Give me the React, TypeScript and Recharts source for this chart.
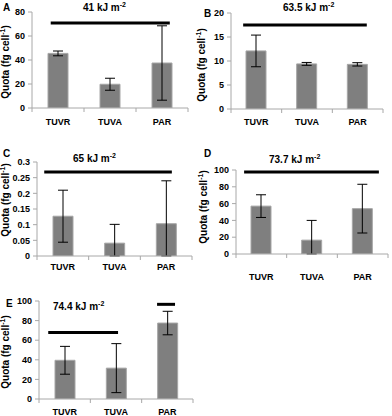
import { BarChart, Bar, XAxis, YAxis, ErrorBar, ReferenceLine } from 'recharts';

const categories = ['TUVR', 'TUVA', 'PAR'];

// Quota (fg cell-1) and error per treatment
const quotaA = [45.5, 19.8, 37.5];
const errA = [2, 5, 31];
const quotaB = [12.1, 9.4, 9.3];
const errB = [3.3, 0.3, 0.35];
const quotaC = [0.127, 0.041, 0.103];
const errC = [0.083, 0.06, 0.137];
const quotaD = [57, 16.5, 54];
const errD = [13.5, 23.5, 29];
const quotaE = [39.5, 31.5, 77.5];
const errE = [14.2, 25, 12];

const ticksA = [0, 20, 40, 60, 80];
const ticksB = [0, 5, 10, 15, 20];
const ticksC = [0, 0.05, 0.1, 0.15, 0.2, 0.25, 0.3];
const ticksD = [0, 20, 40, 60, 80, 100];
const ticksE = [0, 20, 40, 60, 80, 100];

// significance bars (x in category index units)
const sigA = [{ from: -0.14, to: 2.15, y: 70.8 }];
const sigB = [{ from: -0.26, to: 2.18, y: 17.5 }];
const sigC = [{ from: -0.36, to: 2.11, y: 0.268 }];
const sigD = [{ from: -0.34, to: 2.32, y: 97.5 }];
const sigE = [
  { from: -0.32, to: 1.04, y: 67.8 },
  { from: 1.8, to: 2.15, y: 96.6 },
];

const axisGrey = '#a8a8a8';
const xTicks = [-0.5, 0, 0.5, 1, 1.5, 2, 2.5];

function buildRows(values: number[], errs: number[]) {
  return values.map((v, i) => ({
    x: i,
    name: categories[i],
    value: v,
    // error below zero is cut off at the axis
    err: [Math.min(errs[i], v), errs[i]],
  }));
}

function CatTick({ x, y, payload, offset }: any) {
  const v = payload.value;
  if (Number.isInteger(v)) {
    return (
      <text x={x} y={y + offset} textAnchor="middle" fontSize={9} fontWeight="bold" fill="#000">
        {categories[v]}
      </text>
    );
  }
  return <line x1={x} y1={y} x2={x} y2={y + 4} stroke={axisGrey} />;
}

interface PanelProps {
  values: number[];
  errs: number[];
  yTicks: number[];
  sig: { from: number; to: number; y: number }[];
  left: number;
  top: number;
  height: number;
  yWidth: number;
  margin: { top: number; right: number; bottom: number; left: number };
  labelOffset: number;
}

function Panel({ values, errs, yTicks, sig, left, top, height, yWidth, margin, labelOffset }: PanelProps) {
  const data = buildRows(values, errs);
  return (
    <div style={{ position: 'absolute', left, top }}>
      <BarChart width={196} height={height} data={data} margin={margin}>
        <XAxis
          dataKey="x"
          type="number"
          domain={[-0.5, 2.5]}
          ticks={xTicks}
          interval={0}
          allowDataOverflow
          height={15}
          stroke={axisGrey}
          tickLine={false}
          tickSize={0}
          tickMargin={0}
          tick={(p: any) => <CatTick {...p} offset={labelOffset} />}
        />
        <YAxis
          width={yWidth}
          domain={[0, yTicks[yTicks.length - 1]]}
          ticks={yTicks}
          interval={0}
          allowDataOverflow
          stroke={axisGrey}
          tickSize={4}
          tickMargin={3}
          tick={{ fontSize: 9, fontWeight: 'bold', fill: '#000' }}
        />
        <Bar dataKey="value" barSize={20} fill="#7f7f7f" stroke="#a6a6a6" strokeWidth={1} isAnimationActive={false}>
          <ErrorBar dataKey="err" width={5} stroke="#000" strokeWidth={1} isAnimationActive={false} />
        </Bar>
        {sig.map((s, i) => (
          <ReferenceLine
            key={i}
            segment={[
              { x: s.from, y: s.y },
              { x: s.to, y: s.y },
            ]}
            stroke="#000"
            strokeWidth={3}
            ifOverflow="visible"
          />
        ))}
      </BarChart>
    </div>
  );
}

function Title({ x, y, text }: { x: number; y: number; text: string }) {
  return (
    <text x={x} y={y} fontSize={10} fontWeight="bold" fill="#000">
      {text} m
      <tspan dy={-4} fontSize={7}>-2</tspan>
    </text>
  );
}

function YLabel({ x, y }: { x: number; y: number }) {
  return (
    <text
      x={x}
      y={y}
      transform={`rotate(-90 ${x} ${y})`}
      textAnchor="middle"
      fontSize={10}
      fontWeight="bold"
      fill="#000"
    >
      Quota (fg cell
      <tspan dy={-4} fontSize={7}>-1</tspan>
      <tspan dy={4}>)</tspan>
    </text>
  );
}

export default function App() {
  return (
    <div
      style={{
        position: 'absolute',
        left: 0,
        top: 0,
        width: 392,
        height: 416,
        background: '#fff',
        fontFamily: '"Liberation Sans", Arial, sans-serif',
      }}
    >
      <Panel values={quotaA} errs={errA} yTicks={ticksA} sig={sigA} left={0} top={0} height={150}
        yWidth={32} margin={{ top: 12, right: 8, bottom: 27, left: 0 }} labelOffset={17} />
      <Panel values={quotaB} errs={errB} yTicks={ticksB} sig={sigB} left={196} top={0} height={150}
        yWidth={35} margin={{ top: 13, right: 9, bottom: 26, left: 0 }} labelOffset={16} />
      <Panel values={quotaC} errs={errC} yTicks={ticksC} sig={sigC} left={0} top={140} height={150}
        yWidth={37} margin={{ top: 22, right: 4, bottom: 19, left: 0 }} labelOffset={14} />
      <Panel values={quotaD} errs={errD} yTicks={ticksD} sig={sigD} left={196} top={140} height={150}
        yWidth={40} margin={{ top: 30, right: 4, bottom: 21, left: 0 }} labelOffset={26} />
      <Panel values={quotaE} errs={errE} yTicks={ticksE} sig={sigE} left={0} top={280} height={136}
        yWidth={39} margin={{ top: 21, right: 3, bottom: 2, left: 0 }} labelOffset={16} />

      <svg width={392} height={416} style={{ position: 'absolute', left: 0, top: 0, pointerEvents: 'none' }}>
        <text x={3} y={11} fontSize={10} fontWeight="bold">A</text>
        <text x={204} y={17} fontSize={10} fontWeight="bold">B</text>
        <text x={3} y={157} fontSize={10} fontWeight="bold">C</text>
        <text x={204} y={157} fontSize={10} fontWeight="bold">D</text>
        <text x={6} y={307} fontSize={10} fontWeight="bold">E</text>

        <Title x={83} y={11} text="41 kJ" />
        <Title x={283} y={11} text="63.5 kJ" />
        <Title x={73} y={162} text="65 kJ" />
        <Title x={269} y={163} text="73.7 kJ" />
        <Title x={53} y={310} text="74.4 kJ" />

        <YLabel x={9} y={62} />
        <YLabel x={205} y={65} />
        <YLabel x={9} y={200} />
        <YLabel x={207} y={207} />
        <YLabel x={9} y={352} />
      </svg>
    </div>
  );
}
